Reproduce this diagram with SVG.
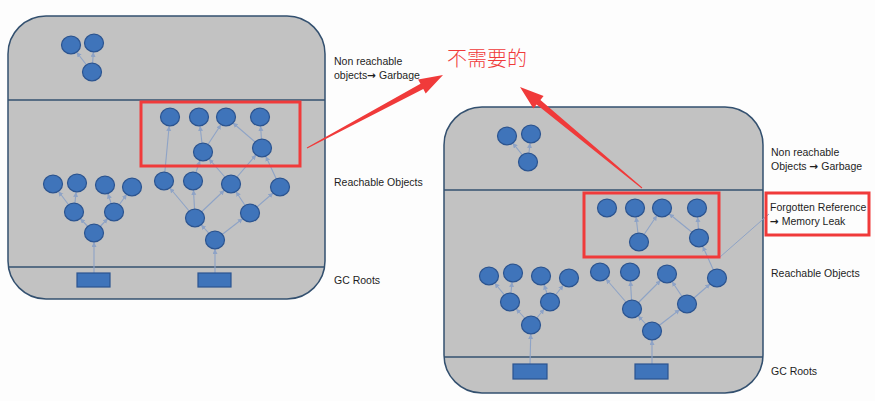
<svg xmlns="http://www.w3.org/2000/svg" width="875" height="401" viewBox="0 0 875 401">
<style>
.panel{fill:#c2c2c2;stroke:#33506f;stroke-width:1.5}
.sep{stroke:#33506f;stroke-width:1.5}
.n{fill:#3f74ba;stroke:#2b5490;stroke-width:1.2}
.e{stroke:#8ea3c6;stroke-width:1.1;fill:none;marker-end:url(#ah)}
.lbl{font-family:"Liberation Sans",Arial,sans-serif;font-size:10.5px;fill:#1e1e1e}
.ar{font-family:"DejaVu Sans",sans-serif;font-weight:bold;font-size:10.5px}
.hl{fill:none;stroke:#f03a3a;stroke-width:3}
.ra{fill:#f03a3a}
</style>
<defs>
<marker id="ah" markerUnits="userSpaceOnUse" markerWidth="6" markerHeight="6" refX="14" refY="2.5" orient="auto">
<path d="M0,0 L5,2.5 L0,5 z" fill="#8ea3c6"/>
</marker>
</defs>
<rect width="875" height="401" fill="#fdfdfd"/>

<g id="panel-left">
<rect class="panel" x="8" y="16" width="317" height="283" rx="38"/>
<line class="sep" x1="8" y1="100" x2="325" y2="100"/>
<line class="sep" x1="8" y1="267" x2="325" y2="267"/>
</g>
<g id="panel-right">
<rect class="panel" x="444" y="107" width="319" height="286" rx="38"/>
<line class="sep" x1="444" y1="190" x2="763" y2="190"/>
<line class="sep" x1="444" y1="357" x2="763" y2="357"/>
</g>

<g id="connectors">
<!-- left panel -->
<line class="e" x1="92" y1="72" x2="71" y2="45"/>
<line class="e" x1="92" y1="72" x2="94" y2="43"/>
<line class="e" x1="94" y1="273" x2="94" y2="233"/>
<line class="e" x1="94" y1="233" x2="74" y2="212"/>
<line class="e" x1="94" y1="233" x2="114" y2="212"/>
<line class="e" x1="74" y1="212" x2="53" y2="184"/>
<line class="e" x1="74" y1="212" x2="77" y2="183"/>
<line class="e" x1="114" y1="212" x2="105" y2="185"/>
<line class="e" x1="114" y1="212" x2="132" y2="187"/>
<line class="e" x1="215" y1="273" x2="215" y2="240"/>
<line class="e" x1="215" y1="240" x2="195" y2="218"/>
<line class="e" x1="215" y1="240" x2="250" y2="213"/>
<line class="e" x1="195" y1="218" x2="164" y2="181"/>
<line class="e" x1="195" y1="218" x2="193" y2="181"/>
<line class="e" x1="195" y1="218" x2="231" y2="184"/>
<line class="e" x1="250" y1="213" x2="231" y2="184"/>
<line class="e" x1="250" y1="213" x2="280" y2="187"/>
<line class="e" x1="164" y1="181" x2="170" y2="117"/>
<line class="e" x1="193" y1="181" x2="203" y2="152"/>
<line class="e" x1="231" y1="184" x2="203" y2="152"/>
<line class="e" x1="231" y1="184" x2="262" y2="148"/>
<line class="e" x1="280" y1="187" x2="262" y2="148"/>
<line class="e" x1="203" y1="152" x2="199" y2="117"/>
<line class="e" x1="203" y1="152" x2="226" y2="117"/>
<line class="e" x1="262" y1="148" x2="226" y2="117"/>
<line class="e" x1="262" y1="148" x2="260" y2="117"/>
<!-- right panel -->
<line class="e" x1="528" y1="162" x2="507" y2="136"/>
<line class="e" x1="528" y1="162" x2="531" y2="134"/>
<line class="e" x1="530" y1="364" x2="531" y2="325"/>
<line class="e" x1="531" y1="325" x2="510" y2="302"/>
<line class="e" x1="531" y1="325" x2="550" y2="302"/>
<line class="e" x1="510" y1="302" x2="489" y2="276"/>
<line class="e" x1="510" y1="302" x2="513" y2="273"/>
<line class="e" x1="550" y1="302" x2="541" y2="276"/>
<line class="e" x1="550" y1="302" x2="569" y2="278"/>
<line class="e" x1="652" y1="364" x2="652" y2="331"/>
<line class="e" x1="652" y1="331" x2="632" y2="309"/>
<line class="e" x1="652" y1="331" x2="687" y2="304"/>
<line class="e" x1="632" y1="309" x2="600" y2="272"/>
<line class="e" x1="632" y1="309" x2="630" y2="272"/>
<line class="e" x1="632" y1="309" x2="667" y2="274"/>
<line class="e" x1="687" y1="304" x2="667" y2="274"/>
<line class="e" x1="687" y1="304" x2="717" y2="278"/>
<line class="e" x1="717" y1="278" x2="699" y2="238"/>
<line class="e" x1="639" y1="242" x2="635" y2="208"/>
<line class="e" x1="639" y1="242" x2="662" y2="208"/>
<line class="e" x1="699" y1="238" x2="662" y2="208"/>
<line class="e" x1="699" y1="238" x2="697" y2="208"/>
<line x1="769" y1="214" x2="720" y2="257" stroke="#8ea3c6" stroke-width="1"/>
<!-- red annotation arrows -->
<polygon class="ra" points="306.8,147.6 420.5,83.8 418.1,79.4 443,75 425.7,93.5 423.3,89 307.2,148.4"/>
<polygon class="ra" points="642.3,187.6 540.4,100 543.6,96.1 520,87 533.4,108.5 536.6,104.6 641.7,188.4"/>
</g>

<!-- left panel nodes -->
<g id="L-g1"><ellipse class="n" cx="71" cy="45" rx="9.5" ry="8.8"/></g>
<g id="L-g2"><ellipse class="n" cx="94" cy="43" rx="9.5" ry="8.8"/></g>
<g id="L-g3"><ellipse class="n" cx="92" cy="72" rx="9.5" ry="8.8"/></g>
<g id="L-b1"><ellipse class="n" cx="170" cy="117" rx="9.5" ry="8.8"/></g>
<g id="L-b2"><ellipse class="n" cx="199" cy="117" rx="9.5" ry="8.8"/></g>
<g id="L-b3"><ellipse class="n" cx="226" cy="117" rx="9.5" ry="8.8"/></g>
<g id="L-b4"><ellipse class="n" cx="260" cy="117" rx="9.5" ry="8.8"/></g>
<g id="L-b5"><ellipse class="n" cx="203" cy="152" rx="9.5" ry="8.8"/></g>
<g id="L-b6"><ellipse class="n" cx="262" cy="148" rx="9.5" ry="8.8"/></g>
<g id="L-l1"><ellipse class="n" cx="53" cy="184" rx="9.5" ry="8.8"/></g>
<g id="L-l2"><ellipse class="n" cx="77" cy="183" rx="9.5" ry="8.8"/></g>
<g id="L-l3"><ellipse class="n" cx="105" cy="185" rx="9.5" ry="8.8"/></g>
<g id="L-l4"><ellipse class="n" cx="132" cy="187" rx="9.5" ry="8.8"/></g>
<g id="L-l5"><ellipse class="n" cx="74" cy="212" rx="9.5" ry="8.8"/></g>
<g id="L-l6"><ellipse class="n" cx="114" cy="212" rx="9.5" ry="8.8"/></g>
<g id="L-l7"><ellipse class="n" cx="94" cy="233" rx="9.5" ry="8.8"/></g>
<g id="L-root1"><rect class="n" x="77" y="273" width="33" height="14"/></g>
<g id="L-t1"><ellipse class="n" cx="164" cy="181" rx="9.5" ry="8.8"/></g>
<g id="L-t2"><ellipse class="n" cx="193" cy="181" rx="9.5" ry="8.8"/></g>
<g id="L-t3"><ellipse class="n" cx="231" cy="184" rx="9.5" ry="8.8"/></g>
<g id="L-t4"><ellipse class="n" cx="280" cy="187" rx="9.5" ry="8.8"/></g>
<g id="L-t5"><ellipse class="n" cx="195" cy="218" rx="9.5" ry="8.8"/></g>
<g id="L-t6"><ellipse class="n" cx="250" cy="213" rx="9.5" ry="8.8"/></g>
<g id="L-t7"><ellipse class="n" cx="215" cy="240" rx="9.5" ry="8.8"/></g>
<g id="L-root2"><rect class="n" x="198" y="273" width="33" height="14"/></g>
<g id="L-box"><rect class="hl" x="141" y="102" width="159" height="64"/></g>

<!-- right panel nodes -->
<g id="R-g1"><ellipse class="n" cx="507" cy="136" rx="9.5" ry="8.8"/></g>
<g id="R-g2"><ellipse class="n" cx="531" cy="134" rx="9.5" ry="8.8"/></g>
<g id="R-g3"><ellipse class="n" cx="528" cy="162" rx="9.5" ry="8.8"/></g>
<g id="R-c1"><ellipse class="n" cx="607" cy="208" rx="9.5" ry="8.8"/></g>
<g id="R-c2"><ellipse class="n" cx="635" cy="208" rx="9.5" ry="8.8"/></g>
<g id="R-c3"><ellipse class="n" cx="662" cy="208" rx="9.5" ry="8.8"/></g>
<g id="R-c4"><ellipse class="n" cx="697" cy="208" rx="9.5" ry="8.8"/></g>
<g id="R-c5"><ellipse class="n" cx="639" cy="242" rx="9.5" ry="8.8"/></g>
<g id="R-c6"><ellipse class="n" cx="699" cy="238" rx="9.5" ry="8.8"/></g>
<g id="R-k1"><ellipse class="n" cx="489" cy="276" rx="9.5" ry="8.8"/></g>
<g id="R-k2"><ellipse class="n" cx="513" cy="273" rx="9.5" ry="8.8"/></g>
<g id="R-k3"><ellipse class="n" cx="541" cy="276" rx="9.5" ry="8.8"/></g>
<g id="R-k4"><ellipse class="n" cx="569" cy="278" rx="9.5" ry="8.8"/></g>
<g id="R-k5"><ellipse class="n" cx="510" cy="302" rx="9.5" ry="8.8"/></g>
<g id="R-k6"><ellipse class="n" cx="550" cy="302" rx="9.5" ry="8.8"/></g>
<g id="R-k7"><ellipse class="n" cx="531" cy="325" rx="9.5" ry="8.8"/></g>
<g id="R-root1"><rect class="n" x="513" y="364" width="34" height="15"/></g>
<g id="R-s1"><ellipse class="n" cx="600" cy="272" rx="9.5" ry="8.8"/></g>
<g id="R-s2"><ellipse class="n" cx="630" cy="272" rx="9.5" ry="8.8"/></g>
<g id="R-s3"><ellipse class="n" cx="667" cy="274" rx="9.5" ry="8.8"/></g>
<g id="R-s4"><ellipse class="n" cx="717" cy="278" rx="9.5" ry="8.8"/></g>
<g id="R-s5"><ellipse class="n" cx="632" cy="309" rx="9.5" ry="8.8"/></g>
<g id="R-s6"><ellipse class="n" cx="687" cy="304" rx="9.5" ry="8.8"/></g>
<g id="R-s7"><ellipse class="n" cx="652" cy="331" rx="9.5" ry="8.8"/></g>
<g id="R-root2"><rect class="n" x="635" y="364" width="33" height="15"/></g>
<g id="R-box"><rect class="hl" x="584" y="193" width="135" height="64"/></g>

<!-- labels -->
<g id="L-labels">
<text class="lbl" x="334" y="65">Non reachable</text>
<text class="lbl" x="334" y="79">objects<tspan class="ar">→</tspan> Garbage</text>
<text class="lbl" x="334" y="186">Reachable Objects</text>
<text class="lbl" x="334" y="284">GC Roots</text>
</g>
<g id="R-labels">
<text class="lbl" x="771" y="156">Non reachable</text>
<text class="lbl" x="771" y="170">Objects <tspan class="ar">→</tspan> Garbage</text>
<rect class="hl" x="766" y="193" width="103" height="42"/>
<text class="lbl" x="770" y="211">Forgotten Reference</text>
<text class="lbl" x="770" y="225"><tspan class="ar">→</tspan> Memory Leak</text>
<text class="lbl" x="771" y="277">Reachable Objects</text>
<text class="lbl" x="771" y="375">GC Roots</text>
</g>
<g id="note">
<text x="447" y="66" font-family="'Noto Sans CJK SC',sans-serif" font-size="20" font-weight="300" fill="#f03a3a">不需要的</text>
</g>
</svg>
